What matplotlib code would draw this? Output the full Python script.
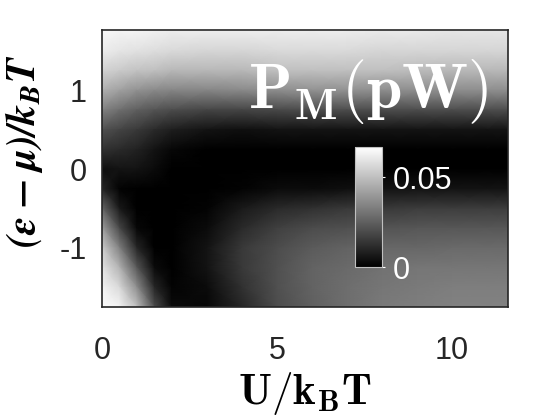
import numpy as np
import matplotlib
matplotlib.use('Agg')
import matplotlib.pyplot as plt

# grid
U = [0, 0.5, 1, 1.5, 2, 3, 4, 5, 6, 7, 8, 9, 10, 11, 11.6]
eps = [1.75, 1.5, 1.25, 1.0, 0.75, 0.5, 0.25, 0.0, -0.25, -0.5, -0.75, -1.0, -1.25, -1.5, -1.75]

# P_M in fW, one row per eps value (top to bottom)
P_fW = [
    [65, 64, 64, 63, 62, 62, 62, 62, 62, 62, 61, 61, 60, 60, 60],
    [62, 60, 59, 58, 57, 56, 56, 57, 57, 57, 56, 56, 56, 56, 56],
    [55, 53, 51, 50, 48, 48, 48, 50, 50, 50, 50, 49, 48, 48, 48],
    [46, 42, 38, 36, 35, 35, 36, 37, 38, 38, 37, 37, 37, 37, 37],
    [34, 29, 25, 22, 20, 18, 18, 19, 20, 20, 20, 20, 20, 20, 20],
    [21, 18, 15, 11, 8, 5, 4, 5, 5, 5, 5, 5, 5, 5, 5],
    [13, 11, 9, 5, 2, 0, 0, 0, 0, 0, 0, 0, 0, 0, 0],
    [4, 5, 5, 3, 0, 0, 0, 0, 0, 0, 0, 0, 0, 0, 0],
    [10, 1, 0, 0, 0, 0, 1, 3, 3, 4, 5, 5, 5, 5, 5],
    [27, 7, 0, 0, 0, 1, 7, 11, 13, 15, 15, 16, 16, 16, 16],
    [42, 19, 2, 0, 0, 3, 11, 17, 20, 21, 22, 23, 23, 23, 23],
    [54, 34, 10, 0, 0, 5, 15, 20, 24, 26, 27, 27, 28, 28, 28],
    [60, 47, 23, 3, 0, 5, 15, 21, 26, 28, 30, 31, 31, 31, 31],
    [64, 57, 37, 10, 1, 3, 13, 21, 26, 29, 31, 32, 33, 33, 33],
    [66, 64, 50, 20, 3, 2, 10, 20, 25, 29, 32, 33, 34, 34, 34],
]
P_pW = np.array(P_fW) / 1000.0

xticks = [0, 5, 10]
yticks = [-1, 0, 1]
cbar_ticks = [0, 0.05]
cbar_labels = ['0', '0.05']

plt.rcParams['mathtext.fontset'] = 'cm'
plt.rcParams['font.family'] = 'Liberation Sans'
plt.rcParams['axes.unicode_minus'] = False

DARK = '#262626'

fig = plt.figure(figsize=(5.6, 4.2), dpi=100)
ax = fig.add_axes([0.182, 0.269, 0.725, 0.660])

im = ax.pcolormesh(U, eps, P_pW, shading='gouraud', cmap='gray', vmin=0, vmax=0.067)
ax.set_xlim(0, 11.6)
ax.set_ylim(-1.75, 1.77)

ax.set_xticks(xticks)
ax.set_yticks(yticks)
ax.tick_params(length=0, labelsize=22, colors=DARK)
ax.tick_params(axis='x', pad=21)
ax.tick_params(axis='y', pad=11)
for s in ax.spines.values():
    s.set_color(DARK)
    s.set_linewidth(1.2)

ax.set_xlabel(r'$\mathbf{U/k_BT}$', fontsize=31, labelpad=3)
ax.set_ylabel(r'$\mathbfit{(\epsilon}\;\mathbf{-}\;\mathbfit{\mu)/k_BT}$', fontsize=29,
              math_fontfamily='stix')
ax.yaxis.set_label_coords(-0.14, 0.56)

ax.text(0.951, 0.718, r'$\mathbf{P_M(pW)}$', transform=ax.transAxes,
        ha='right', va='baseline', color='white', fontsize=46)

# small colorbar inside the plot
cax = fig.add_axes([0.634, 0.364, 0.048, 0.286])
cb = fig.colorbar(im, cax=cax, ticks=cbar_ticks)
cb.ax.set_yticklabels(cbar_labels)
cb.ax.tick_params(labelsize=22, labelcolor='white', color='white', length=2, pad=6)
cb.outline.set_edgecolor('#c0c0c0')
cb.outline.set_linewidth(0.8)

fig.savefig('out.png', dpi=100)
